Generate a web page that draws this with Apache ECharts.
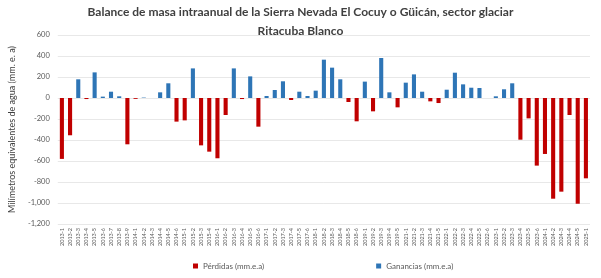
<!DOCTYPE html>
<html>
<head>
<meta charset="utf-8">
<script src="https://cdn.jsdelivr.net/npm/echarts@6/dist/echarts.min.js"></script>
<style>
html,body{margin:0;padding:0;background:#fff;}
#chart{width:601px;height:278px;}
</style>
</head>
<body>
<div id="chart"></div>
<script>
// periodos (año-campaña)
var periodos = ["2013-1","2013-2","2013-3","2013-4","2013-5","2013-6","2013-7","2013-8","2013-9",
    "2014-1","2014-2","2014-3","2014-4","2014-5","2014-6",
    "2015-1","2015-2","2015-3","2015-4",
    "2016-1","2016-2","2016-3","2016-4","2016-5","2016-6",
    "2017-1","2017-2","2017-3","2017-4","2017-5","2017-6",
    "2018-1","2018-2","2018-3","2018-4","2018-5","2018-6",
    "2019-1","2019-2","2019-3","2019-4","2019-5",
    "2021-1","2021-2","2021-3","2021-4","2021-5",
    "2022-1","2022-2","2022-3","2022-4","2022-5","2022-6",
    "2023-1","2023-2","2023-3","2023-4","2023-5","2023-6",
    "2024-1","2024-2","2024-3","2024-4","2024-5","2025-1"];

// perdidas (mm.e.a), null = sin perdida
var perdidas = [-580,-355,null,-10,null,null,null,null,-441,
    -8,null,null,null,null,-225,
    -213,null,-451,-511,
    -574,-162,null,-10,null,-273,
    null,null,null,-19,null,null,
    null,null,null,null,-38,-222,
    null,-127,null,null,-89,
    null,null,null,-32,-48,
    null,null,null,null,null,null,
    null,null,null,-397,-194,-644,
    -533,-959,-892,-162,-1007,-765];

// ganancias (mm.e.a)
var ganancias = [null,null,178,null,244,13,60,16,null,
    null,4,null,54,140,null,
    null,282,null,null,
    null,null,282,null,206,null,
    19,76,159,null,60,19,
    70,365,289,178,null,null,
    156,null,381,54,null,
    146,225,60,null,null,
    79,241,130,98,95,null,
    16,83,140,null,null,null,
    null,null,null,null,null,null];

var yTicks = [-1200,-1000,-800,-600,-400,-200,0,200,400,600];

var myChart = echarts.init(document.getElementById('chart'));
var option = {
    animation: false,
    title: {
        text: "Balance de masa intraanual de la Sierra Nevada El Cocuy o Güicán, sector glaciar\nRitacuba Blanco",
        left: 'center',
        top: -2,
        textStyle: {
            fontFamily: 'Lato',
            fontSize: 12,
            fontWeight: 'bold',
            color: '#404040',
            lineHeight: 19
        }
    },
    legend: {
        data: ['Pérdidas (mm.e.a)', 'Ganancias (mm.e.a)'],
        left: 188,
        top: 257,
        itemWidth: 5,
        itemHeight: 5,
        itemGap: 112,
        icon: 'rect',
        textStyle: { fontFamily: 'Lato', fontSize: 8, color: '#595959' }
    },
    grid: {
        left: 52,
        right: 11,
        top: 35,
        bottom: 54
    },
    xAxis: {
        type: 'category',
        data: periodos,
        axisLine: { show: false },
        axisTick: { show: false },
        axisLabel: {
            rotate: 90,
            interval: 0,
            fontSize: 5.5,
            fontFamily: 'Lato',
            color: '#595959',
            margin: 4
        }
    },
    yAxis: {
        type: 'value',
        min: yTicks[0],
        max: yTicks[yTicks.length - 1],
        interval: 200,
        name: 'Milímetros equivalentes de agua (mm. e. a)',
        nameLocation: 'middle',
        nameGap: 38,
        nameTextStyle: { fontFamily: 'Lato', fontSize: 9, color: '#404040' },
        axisLine: { show: false },
        axisTick: { show: false },
        axisLabel: { fontSize: 7.5, fontFamily: 'Lato', color: '#595959', margin: 8 },
        splitLine: { lineStyle: { color: '#e8e8e8', width: 1 } }
    },
    series: [{
        name: 'Pérdidas (mm.e.a)',
        type: 'bar',
        stack: 'balance',
        barWidth: '50%',
        itemStyle: { color: '#C00000' },
        data: perdidas
    }, {
        name: 'Ganancias (mm.e.a)',
        type: 'bar',
        stack: 'balance',
        barWidth: '50%',
        itemStyle: { color: '#2E75B6' },
        data: ganancias
    }]
};
myChart.setOption(option);
</script>
</body>
</html>
